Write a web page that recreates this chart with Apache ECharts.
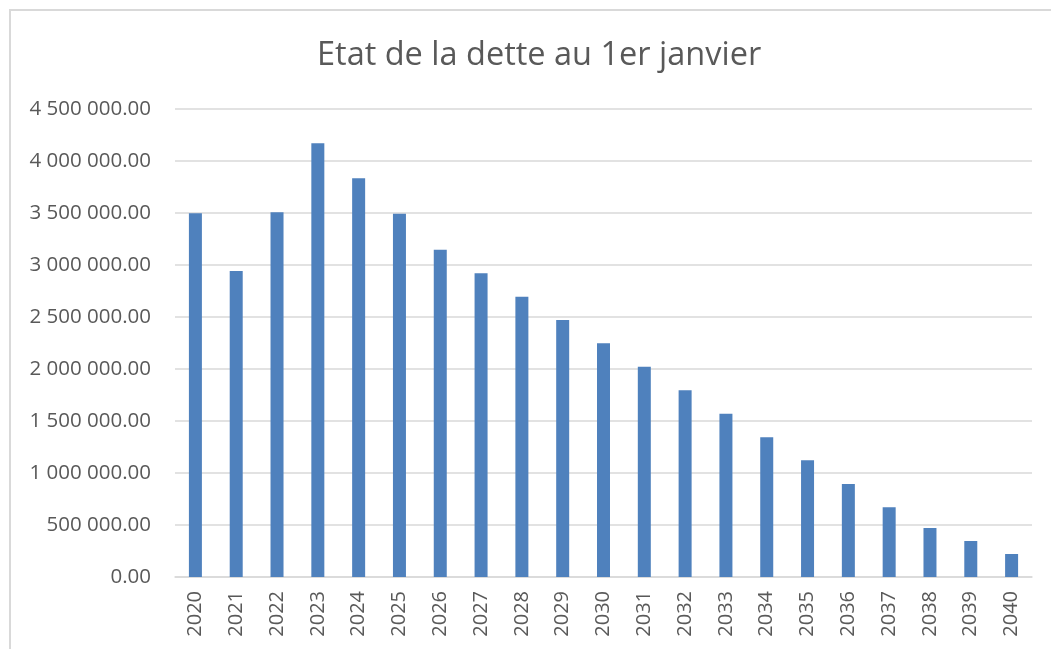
<!DOCTYPE html>
<html>
<head>
<meta charset="utf-8">
<style>
  html, body { margin: 0; padding: 0; background: #fff; }
  #chart { width: 1051px; height: 649px; }
  .frame { position: absolute; left: 9px; top: 9px; right: 0; bottom: 0; border-left: 2px solid #d9d9d9; border-top: 2px solid #d9d9d9; }
</style>
<script src="https://cdn.jsdelivr.net/npm/echarts@6/dist/echarts.min.js"></script>
</head>
<body>
<div class="frame"></div>
<div id="chart" style="position:absolute;left:0;top:0"></div>
<script>
// années (au 1er janvier)
const years = ['2020', '2021', '2022', '2023', '2024', '2025', '2026', '2027', '2028', '2029', '2030',
  '2031', '2032', '2033', '2034', '2035', '2036', '2037', '2038', '2039', '2040']
// encours de la dette
const debt = [3497000, 2942000, 3507000, 4170000, 3833000, 3493000, 3147000, 2920000, 2695000, 2471000, 2247000,
  2022000, 1795000, 1570000, 1343000, 1122000, 894000, 670000, 471000, 346000, 221000]
const yTicks = [0, 500000, 1000000, 1500000, 2000000, 2500000, 3000000, 3500000, 4000000, 4500000]

const fontFamily = '"Open Sans", "Liberation Sans", sans-serif'

function fmt(v) {
  const parts = v.toFixed(2).split('.')
  return parts[0].replace(/\B(?=(\d{3})+(?!\d))/g, ' ') + '.' + parts[1]
}

const chart = echarts.init(document.getElementById('chart'), null, { renderer: 'canvas' })
chart.setOption({
  animation: false,
  title: {
    text: 'Etat de la dette au 1er janvier',
    left: 312,
    top: 34,
    textStyle: { fontFamily: fontFamily, fontSize: 32.5, fontWeight: 'normal', color: '#595959' }
  },
  grid: { left: 175, right: 19, top: 109, bottom: 72, containLabel: false },
  xAxis: {
    type: 'category',
    data: years,
    axisLine: { lineStyle: { color: '#d9d9d9', width: 1.5 } },
    axisTick: { show: false },
    axisLabel: { rotate: 90, margin: 14, color: '#595959', fontSize: 20, fontFamily: fontFamily }
  },
  yAxis: {
    type: 'value',
    min: yTicks[0],
    max: yTicks[yTicks.length - 1],
    interval: 500000,
    axisLine: { show: false },
    axisTick: { show: false },
    splitLine: { lineStyle: { color: '#d9d9d9', width: 1.5 } },
    axisLabel: { margin: 24, color: '#595959', fontSize: 20.5, fontFamily: fontFamily, formatter: fmt }
  },
  series: [{
    type: 'bar',
    data: debt,
    barWidth: 13,
    itemStyle: { color: '#4f81bd' }
  }]
})
</script>
</body>
</html>
